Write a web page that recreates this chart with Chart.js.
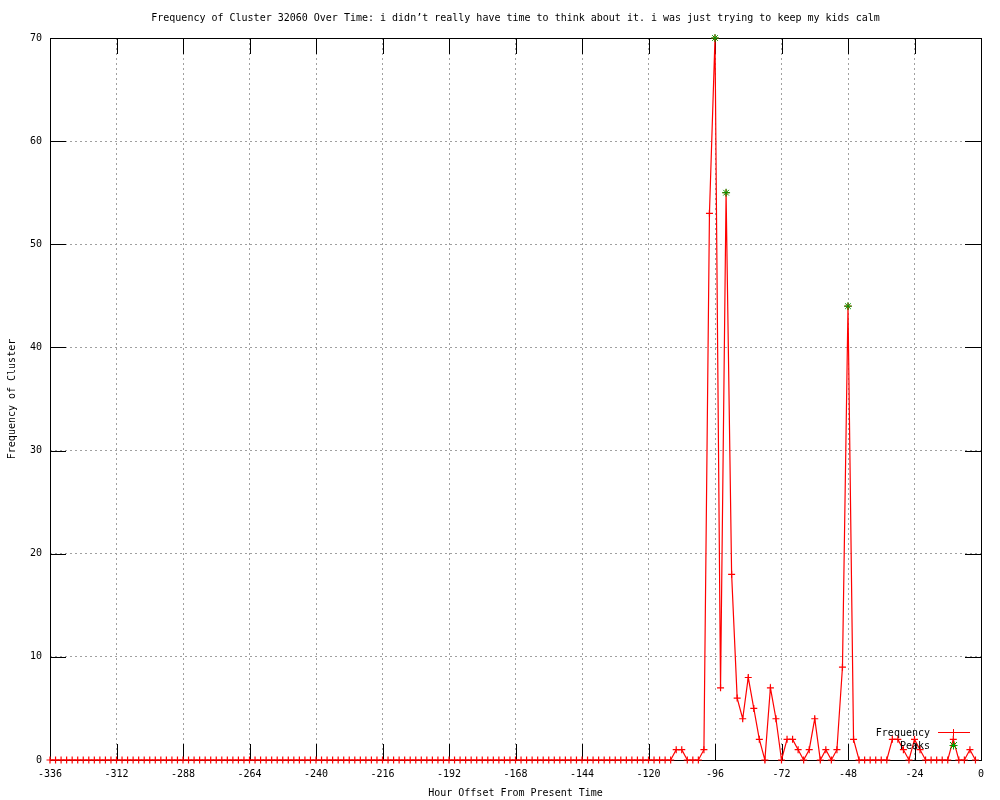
<!DOCTYPE html>
<html>
<head>
<meta charset="utf-8">
<script src="https://cdn.jsdelivr.net/npm/chart.js@4/dist/chart.umd.min.js"></script>
<style>
  body { margin: 0; background: #fff; }
  #wrap { width: 1000px; height: 800px; }
</style>
</head>
<body>
<div id="wrap"><canvas id="chart" width="1000" height="800"></canvas></div>
<script>
const titleText = "Frequency of Cluster 32060 Over Time: i didn\u2019t really have time to think about it. i was just trying to keep my kids calm";
const xTitle = 'Hour Offset From Present Time';
const yTitle = 'Frequency of Cluster';

// hour offsets, one sample every 2 hours
const hours = [
  -336, -334, -332, -330, -328, -326, -324, -322, -320, -318, -316, -314,
  -312, -310, -308, -306, -304, -302, -300, -298, -296, -294, -292, -290,
  -288, -286, -284, -282, -280, -278, -276, -274, -272, -270, -268, -266,
  -264, -262, -260, -258, -256, -254, -252, -250, -248, -246, -244, -242,
  -240, -238, -236, -234, -232, -230, -228, -226, -224, -222, -220, -218,
  -216, -214, -212, -210, -208, -206, -204, -202, -200, -198, -196, -194,
  -192, -190, -188, -186, -184, -182, -180, -178, -176, -174, -172, -170,
  -168, -166, -164, -162, -160, -158, -156, -154, -152, -150, -148, -146,
  -144, -142, -140, -138, -136, -134, -132, -130, -128, -126, -124, -122,
  -120, -118, -116, -114, -112, -110, -108, -106, -104, -102, -100, -98,
  -96, -94, -92, -90, -88, -86, -84, -82, -80, -78, -76, -74,
  -72, -70, -68, -66, -64, -62, -60, -58, -56, -54, -52, -50,
  -48, -46, -44, -42, -40, -38, -36, -34, -32, -30, -28, -26,
  -24, -22, -20, -18, -16, -14, -12, -10, -8, -6, -4, -2
];
const frequency = [
  0, 0, 0, 0, 0, 0, 0, 0, 0, 0, 0, 0,
  0, 0, 0, 0, 0, 0, 0, 0, 0, 0, 0, 0,
  0, 0, 0, 0, 0, 0, 0, 0, 0, 0, 0, 0,
  0, 0, 0, 0, 0, 0, 0, 0, 0, 0, 0, 0,
  0, 0, 0, 0, 0, 0, 0, 0, 0, 0, 0, 0,
  0, 0, 0, 0, 0, 0, 0, 0, 0, 0, 0, 0,
  0, 0, 0, 0, 0, 0, 0, 0, 0, 0, 0, 0,
  0, 0, 0, 0, 0, 0, 0, 0, 0, 0, 0, 0,
  0, 0, 0, 0, 0, 0, 0, 0, 0, 0, 0, 0,
  0, 0, 0, 0, 0, 1, 1, 0, 0, 0, 1, 53,
  70, 7, 55, 18, 6, 4, 8, 5, 2, 0, 7, 4,
  0, 2, 2, 1, 0, 1, 4, 0, 1, 0, 1, 9,
  44, 2, 0, 0, 0, 0, 0, 0, 2, 2, 1, 0,
  2, 1, 0, 0, 0, 0, 0, 2, 0, 0, 1, 0
];
const peakHours = [-96, -92, -48];
const peakValues = [70, 55, 44];

const xTicks = [-336, -312, -288, -264, -240, -216, -192, -168, -144, -120, -96, -72, -48, -24, 0];
const yTicks = [0, 10, 20, 30, 40, 50, 60, 70];

Chart.defaults.font.family = "'DejaVu Sans Mono', monospace";
Chart.defaults.font.size = 10;
Chart.defaults.color = '#000';

// gnuplot style frame: inward ticks on all sides, titles, key
const gnuplotFrame = {
  id: 'gnuplotFrame',
  beforeDatasetsDraw(chart) {
    const { ctx, chartArea: a, scales: { x, y } } = chart;
    ctx.save();
    ctx.strokeStyle = '#000';
    ctx.lineWidth = 1;
    ctx.beginPath();
    xTicks.forEach(v => {
      const px = Math.round(x.getPixelForValue(v)) + 0.5;
      ctx.moveTo(px, a.bottom); ctx.lineTo(px, a.bottom - 16);
      ctx.moveTo(px, a.top); ctx.lineTo(px, a.top + 16);
    });
    yTicks.forEach(v => {
      const py = Math.round(y.getPixelForValue(v)) + 0.5;
      ctx.moveTo(a.left, py); ctx.lineTo(a.left + 16, py);
      ctx.moveTo(a.right, py); ctx.lineTo(a.right - 16, py);
    });
    ctx.stroke();
    ctx.strokeRect(Math.round(a.left) + 0.5, Math.round(a.top) + 0.5,
      Math.round(a.right - a.left), Math.round(a.bottom - a.top));
    ctx.restore();
  },
  afterDatasetsDraw(chart) {
    const { ctx, chartArea: a } = chart;
    ctx.save();
    ctx.fillStyle = '#000';
    ctx.font = "10px 'DejaVu Sans Mono', monospace";
    ctx.textAlign = 'center';
    ctx.textBaseline = 'middle';
    ctx.fillText(titleText, (a.left + a.right) / 2, 18);
    ctx.fillText(xTitle, (a.left + a.right) / 2, 793);
    ctx.save();
    ctx.translate(12, (a.top + a.bottom) / 2);
    ctx.rotate(-Math.PI / 2);
    ctx.fillText(yTitle, 0, 0);
    ctx.restore();

    // key
    ctx.textAlign = 'right';
    ctx.fillText('Frequency', 930, 733);
    ctx.fillText('Peaks', 930, 746);
    ctx.lineWidth = 1;
    ctx.strokeStyle = '#ff0000';
    ctx.beginPath();
    ctx.moveTo(938, 732.5); ctx.lineTo(970, 732.5);
    ctx.moveTo(953.5, 729); ctx.lineTo(953.5, 736);
    ctx.stroke();
    ctx.strokeStyle = '#00a000';
    ctx.beginPath();
    ctx.moveTo(950, 742); ctx.lineTo(957, 749);
    ctx.moveTo(957, 742); ctx.lineTo(950, 749);
    ctx.moveTo(953.5, 741.5); ctx.lineTo(953.5, 749.5);
    ctx.moveTo(949.5, 745.5); ctx.lineTo(957.5, 745.5);
    ctx.stroke();
    ctx.restore();
  }
};

new Chart(document.getElementById('chart'), {
  type: 'line',
  data: {
    datasets: [{
      label: 'Frequency',
      data: hours.map((h, i) => ({ x: h, y: frequency[i] })),
      borderColor: '#ff0000',
      borderWidth: 1.2,
      pointStyle: 'cross',
      pointRadius: 3.5,
      pointBorderColor: '#ff0000',
      pointBorderWidth: 1.2,
      tension: 0,
      clip: false,
      order: 1
    }, {
      label: 'Peaks',
      data: peakHours.map((h, i) => ({ x: h, y: peakValues[i] })),
      showLine: false,
      pointStyle: 'star',
      pointRadius: 4,
      pointBorderColor: '#00a000',
      pointBackgroundColor: '#00a000',
      pointBorderWidth: 1,
      clip: false,
      order: 0
    }]
  },
  options: {
    responsive: false,
    animation: false,
    layout: { padding: { left: 0, right: 19, top: 38, bottom: 0 } },
    plugins: {
      legend: { display: false },
      tooltip: { enabled: false }
    },
    scales: {
      x: {
        type: 'linear',
        min: -336,
        max: 0,
        afterBuildTicks: s => { s.ticks = xTicks.map(v => ({ value: v })); },
        afterFit: s => { s.height = 40; },
        ticks: { padding: 8, maxRotation: 0, autoSkip: false },
        grid: { color: '#a0a0a0', drawTicks: false },
        border: { display: false, dash: [2, 3] }
      },
      y: {
        min: 0,
        max: 70,
        afterBuildTicks: s => { s.ticks = yTicks.map(v => ({ value: v })); },
        afterFit: s => { s.width = 50; },
        ticks: { padding: 8 },
        grid: { color: '#a0a0a0', drawTicks: false },
        border: { display: false, dash: [2, 3] }
      }
    }
  },
  plugins: [gnuplotFrame]
});
</script>
</body>
</html>
